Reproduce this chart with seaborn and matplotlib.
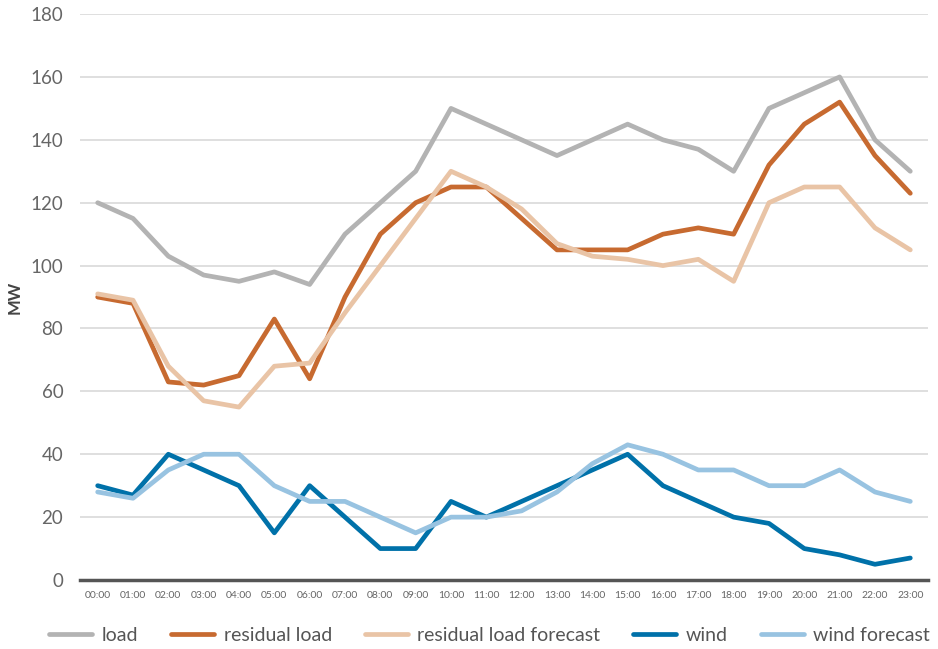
import numpy as np
import pandas as pd
import seaborn as sns
import matplotlib.pyplot as plt

horas = [f"{h:02d}:00" for h in range(24)]
load = [120, 115, 103, 97, 95, 98, 94, 110, 120, 130, 150, 145,
        140, 135, 140, 145, 140, 137, 130, 150, 155, 160, 140, 130]
residual_load = [90, 88, 63, 62, 65, 83, 64, 90, 110, 120, 125, 125,
                 115, 105, 105, 105, 110, 112, 110, 132, 145, 152, 135, 123]
residual_forecast = [91, 89, 68, 57, 55, 68, 69, 85, 100, 115, 130, 125,
                     118, 107, 103, 102, 100, 102, 95, 120, 125, 125, 112, 105]
wind = [30, 27, 40, 35, 30, 15, 30, 20, 10, 10, 25, 20,
        25, 30, 35, 40, 30, 25, 20, 18, 10, 8, 5, 7]
wind_forecast = [28, 26, 35, 40, 40, 30, 25, 25, 20, 15, 20, 20,
                 22, 28, 37, 43, 40, 35, 35, 30, 30, 35, 28, 25]

series = {
    "load": load,
    "residual load": residual_load,
    "residual load forecast": residual_forecast,
    "wind": wind,
    "wind forecast": wind_forecast,
}
colores = {
    "load": "#b3b3b3",
    "residual load": "#c76a30",
    "residual load forecast": "#e9c4a6",
    "wind": "#0071a9",
    "wind forecast": "#98c3e1",
}

df = pd.DataFrame(series)
df["hora"] = np.arange(len(horas))
df = df.melt(id_vars="hora", var_name="serie", value_name="MW")

sns.set_theme(style="white")
plt.rcParams["font.family"] = ["Lato", "DejaVu Sans"]

fig = plt.figure(figsize=(9.38, 6.49), dpi=100)
ax = fig.add_axes([0.0853, 0.1063, 0.904, 0.872])

sns.lineplot(data=df, x="hora", y="MW", hue="serie", palette=colores,
             linewidth=3.4, ax=ax, legend=True)

ax.set_xlim(-0.5, 23.5)
ax.set_ylim(0, 180)
ax.set_yticks(range(0, 181, 20))
ax.set_xticks(range(24))
ax.set_xticklabels(horas, fontsize=7.5, color="#666666")
ax.tick_params(axis="y", labelsize=13.5, colors="#666666", length=0, pad=12)
ax.tick_params(axis="x", length=0, pad=8)
ax.yaxis.grid(True, color="#d9d9d9", linewidth=1.2)
ax.set_axisbelow(True)
for lado in ["top", "right", "left"]:
    ax.spines[lado].set_visible(False)
ax.spines["bottom"].set_color("#555555")
ax.spines["bottom"].set_linewidth(2.5)
ax.spines["bottom"].set_zorder(5)
ax.set_xlabel("")
ax.set_ylabel("MW", fontsize=12, fontweight="bold", color="#444444", labelpad=6)

handles, labels = ax.get_legend_handles_labels()
ax.legend(handles, labels, loc="upper center", bbox_to_anchor=(0.483, -0.062),
          ncol=5, frameon=False, fontsize=14, handlelength=2.2,
          columnspacing=1.7, handletextpad=0.5, labelcolor="#555555",
          borderaxespad=0.2)

fig.savefig("out.png", dpi=100)
